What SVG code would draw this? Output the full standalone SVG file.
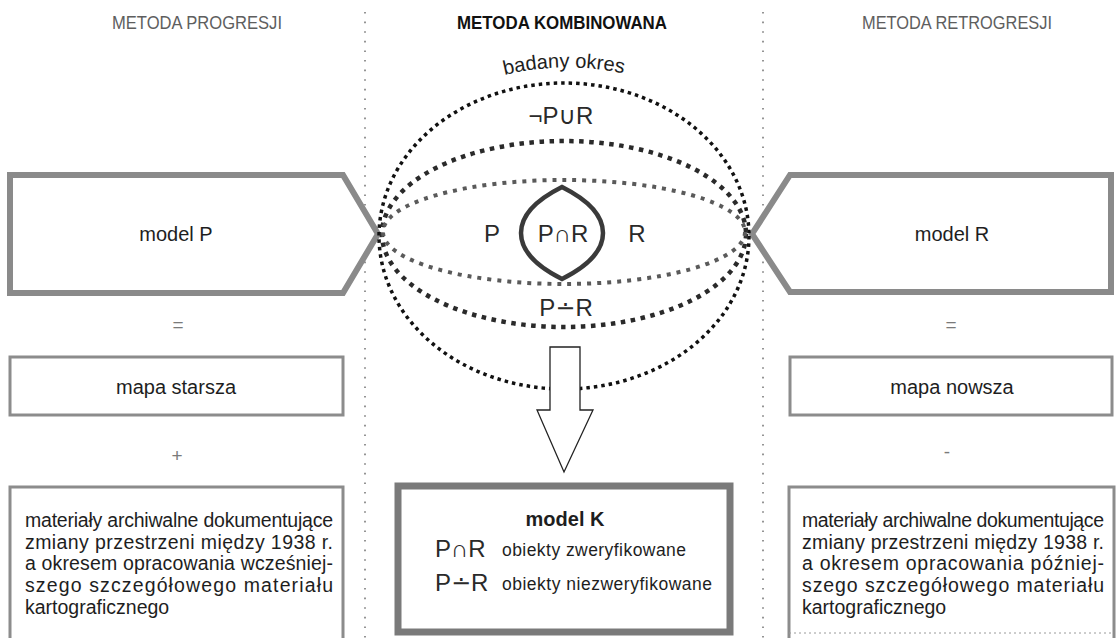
<svg xmlns="http://www.w3.org/2000/svg" width="1118" height="638" viewBox="0 0 1118 638">
<style>
text{font-family:"Liberation Sans",Arial,"DejaVu Sans",sans-serif;fill:#1e1e1e}
.hd{font-size:19px;fill:#5e5e5e}
.hdb{font-size:19px;font-weight:bold;fill:#111}
.lbl{font-size:20px;text-anchor:middle}
.body{font-size:19.5px}
.sym{font-size:24px;fill:#2a2a2a}
.op{font-size:19px;fill:#7a7a7a;text-anchor:middle}
.thick{fill:#fff;stroke:#8a8a8a;stroke-width:6}
.thin{fill:none;stroke:#8c8c8c;stroke-width:3}
.div{stroke:#7a7a7a;stroke-width:1.6;stroke-dasharray:1.6 8}
</style>
<defs>
<path id="arc" d="M486,80 Q564,56 642,78" fill="none"/>
</defs>

<g id="dividers">
<line class="div" x1="365" y1="12" x2="365" y2="638"/>
<line class="div" x1="763" y1="12" x2="763" y2="638"/>
</g>

<g id="headers">
<text class="hd" x="112" y="29" textLength="170" lengthAdjust="spacingAndGlyphs">METODA PROGRESJI</text>
<text class="hdb" x="457" y="29" textLength="210" lengthAdjust="spacingAndGlyphs">METODA KOMBINOWANA</text>
<text class="hd" x="862" y="29" textLength="190" lengthAdjust="spacingAndGlyphs">METODA RETROGRESJI</text>
</g>

<g id="node-model-P">
<path class="thick" d="M10,175 L343,175 L378,234 L343,293 L10,293 Z"/>
<text class="lbl" x="176" y="241">model P</text>
</g>
<g id="node-model-R">
<path class="thick" d="M1111,175 L790,175 L752,234 L790,292 L1111,292 Z"/>
<text class="lbl" x="952" y="241">model R</text>
</g>

<g id="operators">
<text class="op" x="178" y="331">=</text>
<text class="op" x="177" y="462">+</text>
<text class="op" x="951" y="331">=</text>
<text class="op" x="947" y="458">-</text>
</g>

<g id="node-mapa-starsza">
<rect class="thin" x="10" y="357" width="333" height="58"/>
<text class="lbl" x="176" y="394">mapa starsza</text>
</g>
<g id="node-mapa-nowsza">
<rect class="thin" x="790" y="357" width="322" height="58"/>
<text class="lbl" x="952" y="394">mapa nowsza</text>
</g>

<g id="node-materialy-P">
<path class="thin" d="M10,638 L10,487 L343,487 L343,638"/>
<text class="body" x="25" y="527" textLength="308" lengthAdjust="spacing">materiały archiwalne dokumentujące</text>
<text class="body" x="25" y="549" textLength="308" lengthAdjust="spacing">zmiany przestrzeni między 1938 r.</text>
<text class="body" x="25" y="570" textLength="308" lengthAdjust="spacing">a okresem opracowania wcześniej-</text>
<text class="body" x="25" y="592" textLength="308" lengthAdjust="spacing">szego szczegółowego materiału</text>
<text class="body" x="25" y="614">kartograficznego</text>
</g>
<g id="node-materialy-R">
<path class="thin" d="M789,638 L789,487 L1114,487 L1114,638"/>
<line x1="789" y1="633" x2="1114" y2="633" stroke="#9a9a9a" stroke-width="1" stroke-dasharray="2 3"/>
<text class="body" x="802" y="527" textLength="302" lengthAdjust="spacing">materiały archiwalne dokumentujące</text>
<text class="body" x="802" y="549" textLength="302" lengthAdjust="spacing">zmiany przestrzeni między 1938 r.</text>
<text class="body" x="802" y="570" textLength="302" lengthAdjust="spacing">a okresem opracowania później-</text>
<text class="body" x="802" y="592" textLength="302" lengthAdjust="spacing">szego szczegółowego materiału</text>
<text class="body" x="802" y="614">kartograficznego</text>
</g>

<g id="node-badany-okres">
<ellipse cx="564" cy="236" rx="185" ry="153" fill="none" stroke="#111" stroke-width="3.5" stroke-dasharray="3.5 4"/>
<ellipse cx="564" cy="234" rx="182" ry="93" fill="none" stroke="#2a2a2a" stroke-width="4.5" stroke-dasharray="4.5 5.5"/>
<ellipse cx="564" cy="232" rx="181" ry="52" fill="none" stroke="#5a5a5a" stroke-width="4" stroke-dasharray="4 6"/>
<text style="font-size:20px"><textPath href="#arc" startOffset="50%" text-anchor="middle">badany okres</textPath></text>
<text class="sym" x="561" y="124" text-anchor="middle">¬P∪R</text>
<text class="sym" x="492" y="242" text-anchor="middle">P</text>
<text class="sym" x="637" y="242" text-anchor="middle">R</text>
<path d="M562,187 C590,201 603,216 603,233 C603,250 590,265 562,279 C534,265 521,250 521,233 C521,216 534,201 562,187 Z" fill="none" stroke="#3a3a3a" stroke-width="4.5"/>
<text class="sym" x="563" y="242" text-anchor="middle">P∩R</text>
<text class="sym" x="566" y="316" text-anchor="middle">P∸R</text>
</g>

<g id="connectors">
<path d="M550,347 L580,347 L580,410 L593,410 L564,472 L537,410 L550,410 Z" fill="#fff" stroke="#222" stroke-width="1.3"/>
</g>

<g id="node-model-K">
<rect x="398" y="486" width="332" height="146" fill="#fff" stroke="#7a7a7a" stroke-width="7"/>
<text x="565" y="526" style="font-size:20px;font-weight:bold;text-anchor:middle">model K</text>
<text class="sym" x="435" y="557">P∩R</text>
<text x="502" y="556" style="font-size:17.5px" textLength="184" lengthAdjust="spacing">obiekty zweryfikowane</text>
<text class="sym" x="435" y="591">P∸R</text>
<text x="502" y="590" style="font-size:17.5px" textLength="210" lengthAdjust="spacing">obiekty niezweryfikowane</text>
</g>
</svg>
